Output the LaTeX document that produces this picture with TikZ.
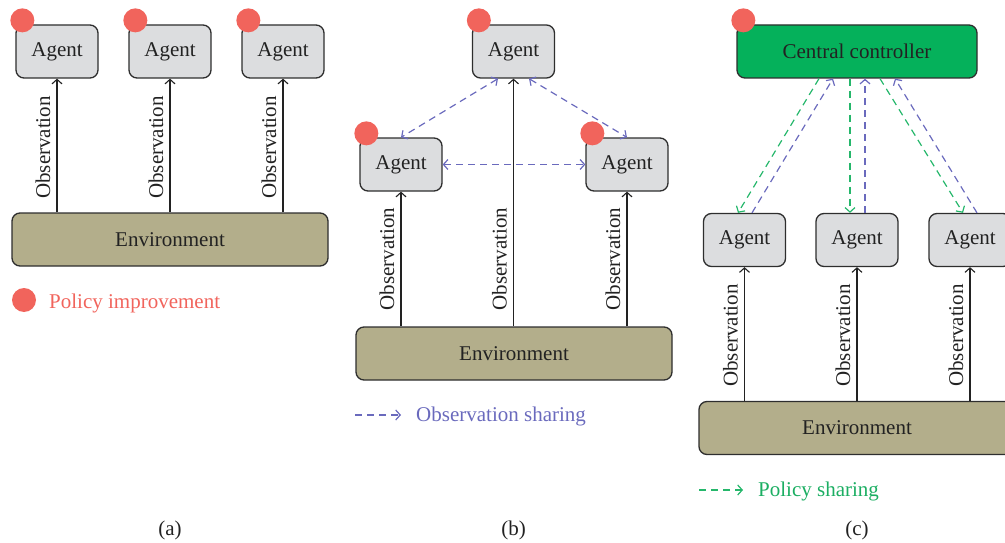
\documentclass[tikz,border=0pt]{standalone}
\usepackage{fontspec}
\setmainfont{Liberation Serif}
\usetikzlibrary{arrows.meta,calc}

\definecolor{ink}{HTML}{222222}
\definecolor{edge}{HTML}{2E2E2E}
\definecolor{agentgray}{HTML}{DCDDDF}
\definecolor{envolive}{HTML}{B3AE8B}
\definecolor{ctrlgreen}{HTML}{05B15B}
\definecolor{dotred}{HTML}{F1645C}
\definecolor{shareblue}{HTML}{6A6ABD}
\definecolor{sharegreen}{HTML}{25B76B}
\definecolor{textgreen}{HTML}{1BAE62}

\tikzset{
  box/.style={draw=edge, line width=1.3pt, rounded corners=8pt, text=ink, inner sep=0pt},
  agent/.style={box, fill=agentgray, minimum width=82pt, minimum height=53pt},
  envbox/.style={box, fill=envolive, minimum width=316pt, minimum height=53pt},
  ctrl/.style={box, fill=ctrlgreen, minimum width=240pt, minimum height=53pt},
  dot/.style={circle, fill=dotred, minimum size=24pt, inner sep=0pt},
  barb/.tip={Straight Barb[length=4.5pt,width=10pt]},
  obs/.style={draw=ink, line width=1.1pt, -barb},
  obslabel/.style={rotate=90, anchor=base, inner sep=0pt, text=ink},
  dash6/.style={dashed, dash pattern=on 7pt off 5pt, line width=1.2pt},
  obsshare/.style={dash6, draw=shareblue, barb-barb},
  toagent/.style={dash6, draw=sharegreen, -barb},
  toctrl/.style={dash6, draw=shareblue, -barb},
  caption/.style={text=ink}
}

\begin{document}
\begin{tikzpicture}[x=1pt, y=-1pt, font=\fontsize{21}{25}\selectfont]
\useasboundingbox (0,0) rectangle (1005,543);

% ---------------- (a) independent learners ----------------
\node[envbox] (enva) at (170,239.5) {Environment};
\foreach \i/\x in {1/57, 2/170, 3/283} {
  \node[agent] (aga\i) at (\x,51.5) {Agent};
  \node[dot] (dota\i) at ($(aga\i.north west)+(7,-4)$) {};
  \draw[obs] (enva.north -| aga\i) -- (aga\i.south);
  \node[obslabel] (obsa\i) at (\x-7,147.5) {Observation};
}
\node[dot] (legdot) at (24,300) {};
\node[anchor=base west, inner sep=0pt, text=dotred] (legimp) at (49,308) {Policy improvement};
\node[caption] (capa) at (170,530) {(a)};

% ---------------- (b) observation sharing ----------------
\node[envbox] (envb) at (514,353.5) {Environment};
\node[agent] (agb0) at (513.5,51.5) {Agent};
\node[agent] (agb1) at (401,164.5) {Agent};
\node[agent] (agb2) at (627,164.5) {Agent};
\foreach \i in {0,1,2} {
  \node[dot] (dotb\i) at ($(agb\i.north west)+(7,-4)$) {};
  \draw[obs] (envb.north -| agb\i) -- (agb\i.south);
}
\node[obslabel] (obsb1) at (401-7,259) {Observation};
\node[obslabel] (obsb0) at (513.5-7,259) {Observation};
\node[obslabel] (obsb2) at (627-7,259) {Observation};
\draw[obsshare] ([xshift=-15.5pt]agb0.south) -- (agb1.north);
\draw[obsshare] ([xshift=15.5pt]agb0.south) -- (agb2.north);
\draw[obsshare] (agb1.east) -- (agb2.west);
\coordinate (lgb1) at (355,415);
\coordinate (lgb2) at (401,415);
\draw[toctrl] (lgb1) -- (lgb2);
\node[anchor=base west, inner sep=0pt, text=shareblue] (legobs) at (416,421) {Observation sharing};
\node[caption] (capb) at (513.5,530) {(b)};

% ---------------- (c) central controller ----------------
\node[envbox] (envc) at (857,428) {Environment};
\node[ctrl] (cc) at (857,51.5) {Central controller};
\node[dot] (dotc) at ($(cc.north west)+(7,-4)$) {};
\foreach \i/\x in {1/744.5, 2/857, 3/970} {
  \node[agent] (agc\i) at (\x,240) {Agent};
  \draw[obs] (envc.north -| agc\i) -- (agc\i.south);
  \node[obslabel] (obsc\i) at (\x-7,335.5) {Observation};
}
% policy sent down, observations sent up
\draw[toagent] ([xshift=-38pt]cc.south) -- ([xshift=-6.5pt]agc1.north);
\draw[toctrl]  ([xshift=7.5pt]agc1.north) -- ([xshift=-24pt]cc.south);
\draw[toagent] ([xshift=-7pt]cc.south) -- ([xshift=-7pt]agc2.north);
\draw[toctrl]  ([xshift=8pt]agc2.north) -- ([xshift=8pt]cc.south);
\draw[toagent] ([xshift=23pt]cc.south) -- ([xshift=-7pt]agc3.north);
\draw[toctrl]  ([xshift=7pt]agc3.north) -- ([xshift=38pt]cc.south);
\coordinate (lgc1) at (699,490);
\coordinate (lgc2) at (743,490);
\draw[toagent] (lgc1) -- (lgc2);
\node[anchor=base west, inner sep=0pt, text=textgreen] (legpol) at (758,496) {Policy sharing};
\node[caption] (capc) at (857,530) {(c)};
\end{tikzpicture}
\end{document}
